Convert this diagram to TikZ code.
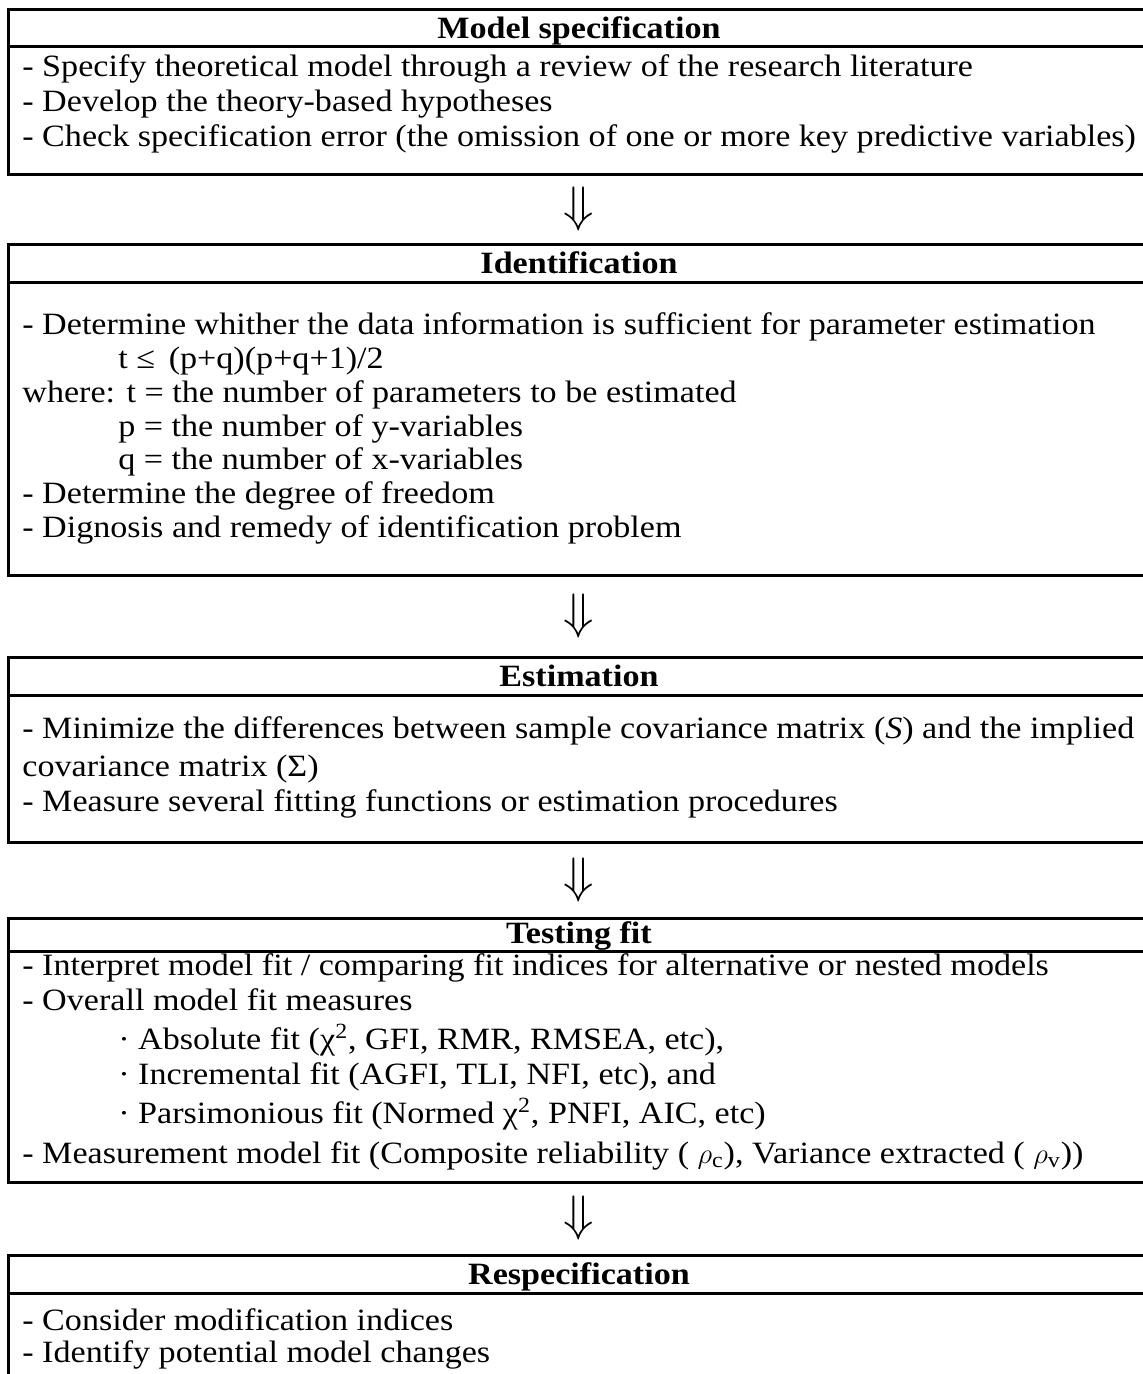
\documentclass[tikz,border=0pt]{standalone}
\usepackage{fontspec}
\setmainfont{Liberation Serif}[FakeStretch=1.1]
\tikzset{
    frame/.style={line width=1.5pt},
    head/.style={anchor=base, inner sep=0pt, font=\fontsize{15.5}{18}\selectfont\bfseries},
    txt/.style={anchor=base west, inner sep=0pt},
    flow/.style={inner sep=0pt, font=\fontsize{23}{25}\selectfont},
}
\newcommand{\ind}{\hspace*{48pt}}
\begin{document}
\begin{tikzpicture}[x=0.5pt,y=-0.5pt,font=\fontsize{15.5}{18}\selectfont]
    \useasboundingbox (0,0) rectangle (1143,1374);
    \clip (0,0) rectangle (1143,1374);
    % Model specification
    \draw[frame] (1160,10) -| (8,175) -- (1160,175) (8,47) -- (1160,47);
    \node[head] (h1) at (579,38.5) {Model specification};
    \foreach \t [count=\i] in {{- Specify theoretical model through a review of the research literature},
        {- Develop the theory-based hypotheses},
        {- Check specification error (the omission of one or more key predictive variables)}}
        \node[txt] (m\i) at (22,{77+35*(\i-1)}) {\t};
    \node[flow] (a1) at (579,209) {$\Downarrow$};
    % Identification
    \draw[frame] (1160,245) -| (8,575) -- (1160,575) (8,283) -- (1160,283);
    \node[head] (h2) at (579,274) {Identification};
    \foreach \t [count=\i] in {{- Determine whither the data information is sufficient for parameter estimation},
        {\ind t ≤ \,(p+q)(p+q+1)/2},
        {where: t = the number of parameters to be estimated},
        {\ind p = the number of y-variables},
        {\ind q = the number of x-variables},
        {- Determine the degree of freedom},
        {- Dignosis and remedy of identification problem}}
        \node[txt] (i\i) at (22,{335+33.7*(\i-1)}) {\t};
    \node[flow] (a2) at (579,616) {$\Downarrow$};
    % Estimation
    \draw[frame] (1160,657) -| (8,842) -- (1160,842) (8,695) -- (1160,695);
    \node[head] (h3) at (579,686) {Estimation};
    \node[txt] (e1) at (22,738) {- Minimize the differences between sample covariance matrix (\textit{S}) and the implied};
    \node[txt] (e2) at (22,776) {covariance matrix (Σ)};
    \node[txt] (e3) at (22,811) {- Measure several fitting functions or estimation procedures};
    \node[flow] (a3) at (579,880) {$\Downarrow$};
    % Testing fit
    \draw[frame] (1160,918) -| (8,1182) -- (1160,1182) (8,951) -- (1160,951);
    \node[head] (h4) at (579,943) {Testing fit};
    \node[txt] (t1) at (22,975) {- Interpret model fit / comparing fit indices for alternative or nested models};
    \node[txt] (t2) at (22,1010) {- Overall model fit measures};
    \node[txt] (t3) at (22,1049) {\ind · Absolute fit (χ\textsuperscript{2}, GFI, RMR, RMSEA, etc),};
    \node[txt] (t4) at (22,1084) {\ind · Incremental fit (AGFI, TLI, NFI, etc), and};
    \node[txt] (t5) at (22,1123) {\ind · Parsimonious fit (Normed χ\textsuperscript{2}, PNFI, AIC, etc)};
    \node[txt] (t6) at (22,1163) {- Measurement model fit (Composite reliability ( $\rho$\textsubscript{c}), Variance extracted ( $\rho$\textsubscript{v}))};
    \node[flow] (a4) at (579,1218) {$\Downarrow$};
    % Respecification
    \draw[frame] (1160,1255) -| (8,1400) (8,1293) -- (1160,1293);
    \node[head] (h5) at (579,1284) {Respecification};
    \node[txt] (r1) at (22,1330) {- Consider modification indices};
    \node[txt] (r2) at (22,1362) {- Identify potential model changes};
\end{tikzpicture}
\end{document}
